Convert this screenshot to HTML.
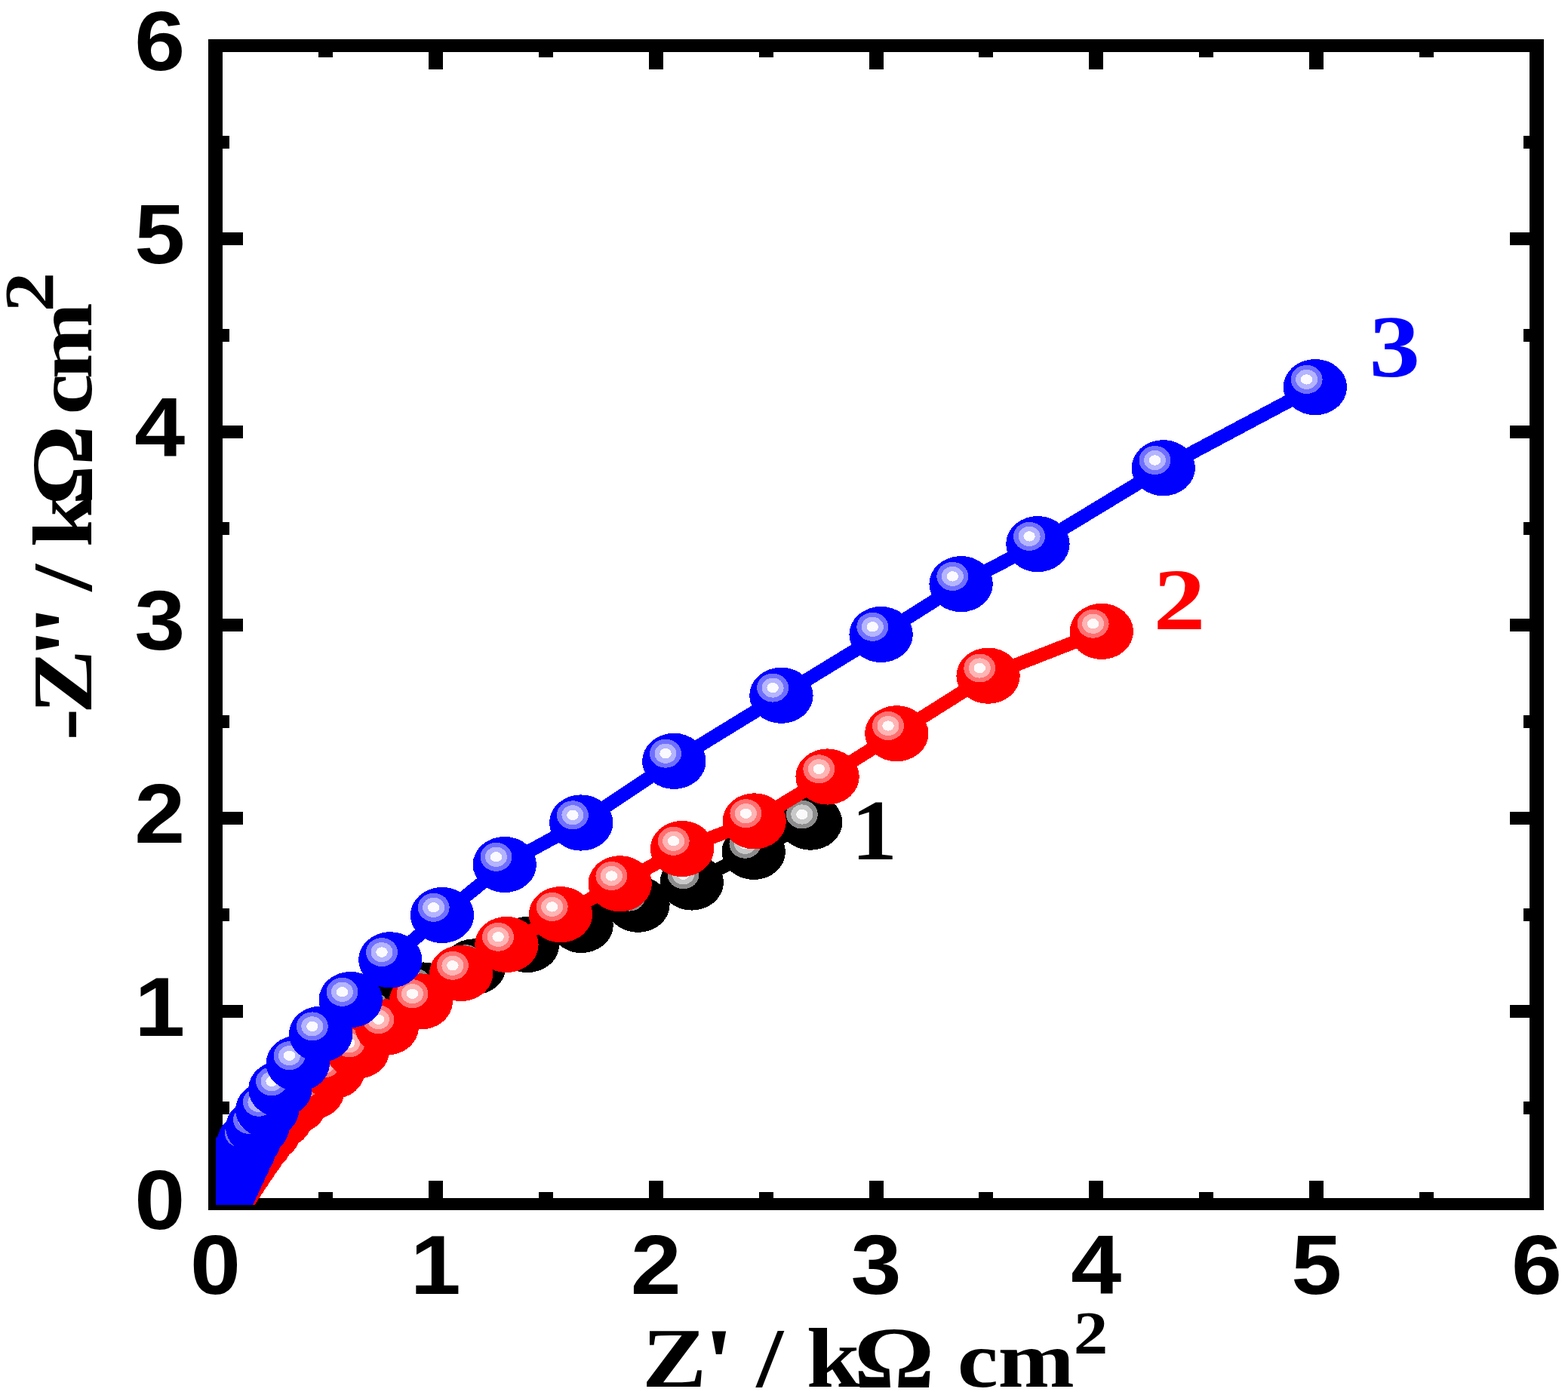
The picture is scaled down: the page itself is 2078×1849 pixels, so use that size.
<!DOCTYPE html>
<html lang="en"><head><meta charset="utf-8"><title>Nyquist plot</title>
<style>html,body{margin:0;padding:0;background:#fff}svg{display:block}.tk{font-family:"Liberation Sans",sans-serif;font-weight:700;font-size:111.5px;fill:#000}.ti{font-family:"Liberation Serif",serif;font-weight:700;font-size:111.5px;fill:#000}.lb{font-family:"Liberation Serif",serif;font-weight:700}</style></head><body>
<svg width="2078" height="1849" viewBox="0 0 2078 1849">
<rect width="2078" height="1849" fill="#fff"/>
<defs>
<clipPath id="pc"><rect x="286" y="52" width="1751" height="1545"/></clipPath>
<g id="mk"><ellipse rx="42.2" ry="37.1" fill="#000000"/><ellipse cx="-11.3" cy="-10.2" rx="21" ry="19" fill="#8c8c8c"/><ellipse cx="-11.3" cy="-10.2" rx="14.5" ry="13.1" fill="#c8c8c8"/><ellipse cx="-11.3" cy="-10.2" rx="7.7" ry="6.7" fill="#fafafa"/></g>
<g id="mr"><ellipse rx="42.2" ry="37.1" fill="#ff0000"/><ellipse cx="-11.3" cy="-10.2" rx="21" ry="19" fill="#ff7070"/><ellipse cx="-11.3" cy="-10.2" rx="14.5" ry="13.1" fill="#ffb4b4"/><ellipse cx="-11.3" cy="-10.2" rx="7.7" ry="6.7" fill="#fffafa"/></g>
<g id="mb"><ellipse rx="42.2" ry="37.1" fill="#0000ff"/><ellipse cx="-11.3" cy="-10.2" rx="21" ry="19" fill="#7070ff"/><ellipse cx="-11.3" cy="-10.2" rx="14.5" ry="13.1" fill="#b4b4ff"/><ellipse cx="-11.3" cy="-10.2" rx="7.7" ry="6.7" fill="#fafaff"/></g>
</defs>
<g fill="#000" shape-rendering="crispEdges">
<rect x="276" y="52" width="19" height="1552"/>
<rect x="2027" y="52" width="19" height="1552"/>
<rect x="276" y="52" width="1770" height="17"/>
<rect x="276" y="1588" width="1770" height="16"/>
<rect x="422" y="60.5" width="19" height="15.5"/>
<rect x="422" y="1580" width="19" height="16.5"/>
<rect x="285.5" y="1460" width="18.5" height="17"/>
<rect x="2019" y="1460" width="17.5" height="17"/>
<rect x="568" y="60.5" width="19" height="31.5"/>
<rect x="568" y="1565" width="19" height="31.5"/>
<rect x="285.5" y="1332" width="36.5" height="17"/>
<rect x="2001" y="1332" width="35.5" height="17"/>
<rect x="714" y="60.5" width="19" height="15.5"/>
<rect x="714" y="1580" width="19" height="16.5"/>
<rect x="285.5" y="1204" width="18.5" height="17"/>
<rect x="2019" y="1204" width="17.5" height="17"/>
<rect x="860" y="60.5" width="19" height="31.5"/>
<rect x="860" y="1565" width="19" height="31.5"/>
<rect x="285.5" y="1076" width="36.5" height="17"/>
<rect x="2001" y="1076" width="35.5" height="17"/>
<rect x="1006" y="60.5" width="19" height="15.5"/>
<rect x="1006" y="1580" width="19" height="16.5"/>
<rect x="285.5" y="948" width="18.5" height="17"/>
<rect x="2019" y="948" width="17.5" height="17"/>
<rect x="1152" y="60.5" width="19" height="31.5"/>
<rect x="1152" y="1565" width="19" height="31.5"/>
<rect x="285.5" y="820" width="36.5" height="17"/>
<rect x="2001" y="820" width="35.5" height="17"/>
<rect x="1297" y="60.5" width="19" height="15.5"/>
<rect x="1297" y="1580" width="19" height="16.5"/>
<rect x="285.5" y="692" width="18.5" height="17"/>
<rect x="2019" y="692" width="17.5" height="17"/>
<rect x="1443" y="60.5" width="19" height="31.5"/>
<rect x="1443" y="1565" width="19" height="31.5"/>
<rect x="285.5" y="564" width="36.5" height="17"/>
<rect x="2001" y="564" width="35.5" height="17"/>
<rect x="1589" y="60.5" width="19" height="15.5"/>
<rect x="1589" y="1580" width="19" height="16.5"/>
<rect x="285.5" y="436" width="18.5" height="17"/>
<rect x="2019" y="436" width="17.5" height="17"/>
<rect x="1735" y="60.5" width="19" height="31.5"/>
<rect x="1735" y="1565" width="19" height="31.5"/>
<rect x="285.5" y="308" width="36.5" height="17"/>
<rect x="2001" y="308" width="35.5" height="17"/>
<rect x="1881" y="60.5" width="19" height="15.5"/>
<rect x="1881" y="1580" width="19" height="16.5"/>
<rect x="285.5" y="180" width="18.5" height="17"/>
<rect x="2019" y="180" width="17.5" height="17"/>
</g>
<g clip-path="url(#pc)" shape-rendering="crispEdges">
<polyline points="1074.1,1089.7 998.8,1128.9 916.8,1169.5 845.5,1198.8 770.6,1226 699,1252 628.4,1281.4 561,1312.5 505,1344 474,1392.6 441.4,1419.6 414.1,1446.6 390.6,1465.7 371.4,1484.7 356.2,1501.9 343.9,1517 333.9,1530.3 325.8,1541.8 319.1,1551.7 313.4,1560.1 308.6,1567.3 304.5,1573.5 301.1,1578.7 298.2,1583.2 295.7,1586.9 293.6,1590.1 291.8,1592.9 290.3,1595.2 289,1597.2 287.9,1598.8 287,1600.3 286.2,1601.5 285.5,1602.5 284.9,1603.4 284.4,1604.1 284,1604.7 283.7,1605.3" fill="none" stroke="#000000" stroke-width="18" stroke-linejoin="round"/>
<use href="#mk" x="283.7" y="1605.3"/>
<use href="#mk" x="284" y="1604.7"/>
<use href="#mk" x="284.4" y="1604.1"/>
<use href="#mk" x="284.9" y="1603.4"/>
<use href="#mk" x="285.5" y="1602.5"/>
<use href="#mk" x="286.2" y="1601.5"/>
<use href="#mk" x="287" y="1600.3"/>
<use href="#mk" x="287.9" y="1598.8"/>
<use href="#mk" x="289" y="1597.2"/>
<use href="#mk" x="290.3" y="1595.2"/>
<use href="#mk" x="291.8" y="1592.9"/>
<use href="#mk" x="293.6" y="1590.1"/>
<use href="#mk" x="295.7" y="1586.9"/>
<use href="#mk" x="298.2" y="1583.2"/>
<use href="#mk" x="301.1" y="1578.7"/>
<use href="#mk" x="304.5" y="1573.5"/>
<use href="#mk" x="308.6" y="1567.3"/>
<use href="#mk" x="313.4" y="1560.1"/>
<use href="#mk" x="319.1" y="1551.7"/>
<use href="#mk" x="325.8" y="1541.8"/>
<use href="#mk" x="333.9" y="1530.3"/>
<use href="#mk" x="343.9" y="1517"/>
<use href="#mk" x="356.2" y="1501.9"/>
<use href="#mk" x="371.4" y="1484.7"/>
<use href="#mk" x="390.6" y="1465.7"/>
<use href="#mk" x="414.1" y="1446.6"/>
<use href="#mk" x="441.4" y="1419.6"/>
<use href="#mk" x="474" y="1392.6"/>
<use href="#mk" x="505" y="1344"/>
<use href="#mk" x="561" y="1312.5"/>
<use href="#mk" x="628.4" y="1281.4"/>
<use href="#mk" x="699" y="1252"/>
<use href="#mk" x="770.6" y="1226"/>
<use href="#mk" x="845.5" y="1198.8"/>
<use href="#mk" x="916.8" y="1169.5"/>
<use href="#mk" x="998.8" y="1128.9"/>
<use href="#mk" x="1074.1" y="1089.7"/>
<polyline points="1459.9,836.9 1309.6,895.7 1188.3,972.2 1096.6,1029.5 999.7,1088.4 904,1125 821.7,1171.2 743,1212.1 671.4,1252 611.2,1290 557.8,1327.4 512.8,1361.4 474,1392.6 441.4,1419.6 414.1,1446.6 390.6,1465.7 371.4,1484.7 356.2,1501.9 343.9,1517 333.9,1530.3 325.8,1541.8 319.1,1551.7 313.4,1560.1 308.6,1567.3 304.5,1573.5 301.1,1578.7 298.2,1583.2 295.7,1586.9 293.6,1590.1 291.8,1592.9 290.3,1595.2 289,1597.2 287.9,1598.8 287,1600.3 286.2,1601.5 285.5,1602.5 284.9,1603.4 284.4,1604.1 284,1604.7 283.7,1605.3" fill="none" stroke="#ff0000" stroke-width="18" stroke-linejoin="round"/>
<use href="#mr" x="283.7" y="1605.3"/>
<use href="#mr" x="284" y="1604.7"/>
<use href="#mr" x="284.4" y="1604.1"/>
<use href="#mr" x="284.9" y="1603.4"/>
<use href="#mr" x="285.5" y="1602.5"/>
<use href="#mr" x="286.2" y="1601.5"/>
<use href="#mr" x="287" y="1600.3"/>
<use href="#mr" x="287.9" y="1598.8"/>
<use href="#mr" x="289" y="1597.2"/>
<use href="#mr" x="290.3" y="1595.2"/>
<use href="#mr" x="291.8" y="1592.9"/>
<use href="#mr" x="293.6" y="1590.1"/>
<use href="#mr" x="295.7" y="1586.9"/>
<use href="#mr" x="298.2" y="1583.2"/>
<use href="#mr" x="301.1" y="1578.7"/>
<use href="#mr" x="304.5" y="1573.5"/>
<use href="#mr" x="308.6" y="1567.3"/>
<use href="#mr" x="313.4" y="1560.1"/>
<use href="#mr" x="319.1" y="1551.7"/>
<use href="#mr" x="325.8" y="1541.8"/>
<use href="#mr" x="333.9" y="1530.3"/>
<use href="#mr" x="343.9" y="1517"/>
<use href="#mr" x="356.2" y="1501.9"/>
<use href="#mr" x="371.4" y="1484.7"/>
<use href="#mr" x="390.6" y="1465.7"/>
<use href="#mr" x="414.1" y="1446.6"/>
<use href="#mr" x="441.4" y="1419.6"/>
<use href="#mr" x="474" y="1392.6"/>
<use href="#mr" x="512.8" y="1361.4"/>
<use href="#mr" x="557.8" y="1327.4"/>
<use href="#mr" x="611.2" y="1290"/>
<use href="#mr" x="671.4" y="1252"/>
<use href="#mr" x="743" y="1212.1"/>
<use href="#mr" x="821.7" y="1171.2"/>
<use href="#mr" x="904" y="1125"/>
<use href="#mr" x="999.7" y="1088.4"/>
<use href="#mr" x="1096.6" y="1029.5"/>
<use href="#mr" x="1188.3" y="972.2"/>
<use href="#mr" x="1309.6" y="895.7"/>
<use href="#mr" x="1459.9" y="836.9"/>
<polyline points="1742.9,513.1 1541.8,620.2 1375.4,721.1 1273.6,774.1 1167.6,841 1035.4,921.8 893.3,1008.9 770.2,1090.5 668.8,1146 586,1213 517.3,1272.3 464.8,1325 425.1,1370.6 394.8,1409.4 371.3,1443.5 354.2,1471 341.2,1494.1 330.2,1512 322.4,1527.7 316.1,1540.9 310.8,1552.1 306.3,1561.5 302.6,1569.3 299.5,1576 296.9,1581.5 294.7,1586.2 292.8,1590.1 291.3,1593.4 290,1596.2 288.9,1598.5 288,1600.5 287.2,1602.1 286.6,1603.5 286,1604.7 285.6,1605.6 285.2,1606.5 284.9,1607.1 284.6,1607.7 284.4,1608.2 284.2,1608.6" fill="none" stroke="#0000ff" stroke-width="18" stroke-linejoin="round"/>
<use href="#mb" x="284.2" y="1608.6"/>
<use href="#mb" x="284.4" y="1608.2"/>
<use href="#mb" x="284.6" y="1607.7"/>
<use href="#mb" x="284.9" y="1607.1"/>
<use href="#mb" x="285.2" y="1606.5"/>
<use href="#mb" x="285.6" y="1605.6"/>
<use href="#mb" x="286" y="1604.7"/>
<use href="#mb" x="286.6" y="1603.5"/>
<use href="#mb" x="287.2" y="1602.1"/>
<use href="#mb" x="288" y="1600.5"/>
<use href="#mb" x="288.9" y="1598.5"/>
<use href="#mb" x="290" y="1596.2"/>
<use href="#mb" x="291.3" y="1593.4"/>
<use href="#mb" x="292.8" y="1590.1"/>
<use href="#mb" x="294.7" y="1586.2"/>
<use href="#mb" x="296.9" y="1581.5"/>
<use href="#mb" x="299.5" y="1576"/>
<use href="#mb" x="302.6" y="1569.3"/>
<use href="#mb" x="306.3" y="1561.5"/>
<use href="#mb" x="310.8" y="1552.1"/>
<use href="#mb" x="316.1" y="1540.9"/>
<use href="#mb" x="322.4" y="1527.7"/>
<use href="#mb" x="330.2" y="1512"/>
<use href="#mb" x="341.2" y="1494.1"/>
<use href="#mb" x="354.2" y="1471"/>
<use href="#mb" x="371.3" y="1443.5"/>
<use href="#mb" x="394.8" y="1409.4"/>
<use href="#mb" x="425.1" y="1370.6"/>
<use href="#mb" x="464.8" y="1325"/>
<use href="#mb" x="517.3" y="1272.3"/>
<use href="#mb" x="586" y="1213"/>
<use href="#mb" x="668.8" y="1146"/>
<use href="#mb" x="770.2" y="1090.5"/>
<use href="#mb" x="893.3" y="1008.9"/>
<use href="#mb" x="1035.4" y="921.8"/>
<use href="#mb" x="1167.6" y="841"/>
<use href="#mb" x="1273.6" y="774.1"/>
<use href="#mb" x="1375.4" y="721.1"/>
<use href="#mb" x="1541.8" y="620.2"/>
<use href="#mb" x="1742.9" y="513.1"/>
</g>
<g class="tk">
<text transform="translate(285.5,1715) scale(1.08,1)" text-anchor="middle">0</text>
<text transform="translate(577.3,1715) scale(1.08,1)" text-anchor="middle">1</text>
<text transform="translate(869.2,1715) scale(1.08,1)" text-anchor="middle">2</text>
<text transform="translate(1161,1715) scale(1.08,1)" text-anchor="middle">3</text>
<text transform="translate(1452.8,1715) scale(1.08,1)" text-anchor="middle">4</text>
<text transform="translate(1744.7,1715) scale(1.08,1)" text-anchor="middle">5</text>
<text transform="translate(2036.5,1715) scale(1.08,1)" text-anchor="middle">6</text>
<text transform="translate(245.3,1628.5) scale(1.08,1)" text-anchor="end">0</text>
<text transform="translate(245.3,1372.5) scale(1.08,1)" text-anchor="end">1</text>
<text transform="translate(245.3,1116.5) scale(1.08,1)" text-anchor="end">2</text>
<text transform="translate(245.3,860.5) scale(1.08,1)" text-anchor="end">3</text>
<text transform="translate(245.3,604.5) scale(1.08,1)" text-anchor="end">4</text>
<text transform="translate(245.3,348.5) scale(1.08,1)" text-anchor="end">5</text>
<text transform="translate(245.3,92.5) scale(1.08,1)" text-anchor="end">6</text>
</g>
<text class="ti" transform="translate(850.9,1837.7) scale(1.148,1)" x="0 70.7 102.9 132 163.9 189.7 244.7 333.7 364 410.8 498.2" y="0 11.3 0 0 0 0 1.3 0 0 0 -43.4">Z<tspan font-size="130">'</tspan> / k<tspan font-size="116">Ω</tspan> <tspan font-size="106">cm</tspan><tspan font-size="79.5">2</tspan></text>
<text class="ti" transform="translate(121,981.6) rotate(-90) scale(1.148,1)" x="0 30.9 94.7 120.9 144.2 172.6 200.8 223.4 271.5 353.3 376.4 417.4 494.8" y="2 0 11.3 11.3 0 0 0 0 1.3 0 0 0 -51.2">-Z<tspan font-size="130">''</tspan> / k<tspan font-size="116">Ω</tspan> <tspan font-size="106">cm</tspan><tspan font-size="92.1">2</tspan></text>
<text class="lb" transform="translate(1128.2,1139.1) scale(1.06,1)" font-size="114.7" fill="#000000">1</text>
<text class="lb" transform="translate(1528.4,833.9) scale(1.183,1)" font-size="116.7" fill="#ff0000">2</text>
<text class="lb" transform="translate(1814.4,499) scale(1.17,1)" font-size="115.4" fill="#0000ff">3</text>
</svg></body></html>
